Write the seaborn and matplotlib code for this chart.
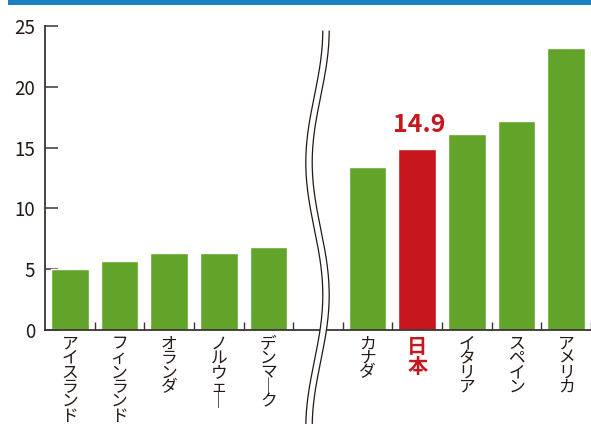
import numpy as np
import pandas as pd
import matplotlib
matplotlib.use("Agg")
import matplotlib.pyplot as plt
from matplotlib.lines import Line2D
from matplotlib.patches import Polygon, Rectangle
import seaborn as sns

# dane
countries_left = ["アイスランド", "フィンランド", "オランダ", "ノルウェー", "デンマーク"]
values_left = [5.0, 5.7, 6.3, 6.3, 6.8]
countries_right = ["カナダ", "日本", "イタリア", "スペイン", "アメリカ"]
values_right = [13.4, 14.9, 16.1, 17.2, 23.2]
highlight = "日本"
y_ticks = [0, 5, 10, 15, 20, 25]

GREEN = "#62a32a"
RED = "#c8161e"
BLUE = "#1a80c4"
DARK = "#3a3433"
TEXT = "#231815"

sns.set_theme(style="white")
plt.rcParams["font.family"] = ["Noto Sans CJK JP", "DejaVu Sans"]

W, H = 591, 424
fig = plt.figure(figsize=(W / 100, H / 100), dpi=100)
ax = fig.add_axes([45 / W, 1 - 330 / H, (W - 45) / W, (330 - 26) / H])

df = pd.DataFrame({"country": countries_left + countries_right,
                   "value": values_left + values_right})
gap = " "
order = countries_left + [gap] + countries_right
palette = {c: (RED if c == highlight else GREEN) for c in df["country"]}

sns.barplot(data=df, x="country", y="value", hue="country", order=order,
            palette=palette, width=0.76, saturation=1, legend=False, ax=ax)

n = len(order)
ax.set_xlim(-0.5, -0.5 + (W - 45) / 50)
ax.set_ylim(0, 25)
ax.set_xlabel("")
ax.set_ylabel("")

# osie
for s in ["top", "right"]:
    ax.spines[s].set_visible(False)
for s in ["left", "bottom"]:
    ax.spines[s].set_color(DARK)
    ax.spines[s].set_linewidth(1.3)

ax.set_yticks(y_ticks)
ax.tick_params(axis="y", direction="in", length=9.5, width=1.1, color=DARK,
               labelsize=13.5, labelcolor=TEXT, pad=7, left=True)

# pionowe napisy (znak po znaku)
def vertical(label):
    return "\n".join("｜" if ch == "ー" else ch for ch in label)

ax.set_xticks(range(n))
ax.set_xticklabels([vertical(c) for c in order], linespacing=0.8)
ax.tick_params(axis="x", length=0, pad=4, labelsize=12, labelcolor=TEXT)
ax.set_xticks(np.arange(n) + 0.5, minor=True)
ax.tick_params(axis="x", which="minor", direction="in", length=5.5,
               width=1.0, color=DARK, bottom=True)
for lab in ax.get_xticklabels():
    if lab.get_text() == vertical(highlight):
        lab.set_color(RED)
        lab.set_fontweight("bold")
        lab.set_fontsize(14.5)
        lab.set_linespacing(0.95)

# etykieta wartości dla Japonii
hl_value = values_right[countries_right.index(highlight)]
ax.text(order.index(highlight) + 0.04, hl_value + 0.95, f"{hl_value:.1f}",
        ha="center", va="bottom", color=RED, fontsize=18, fontweight="bold")

# znak przerwania osi (podwójna falista linia)
yy = np.linspace(31, H + 2, 200)
xc = 317.5 + 8.5 * np.cos(2 * np.pi * (yy - 30) / 265)
xl, xr = xc - 3.2, xc + 3.2
fx = lambda x: x / W
fy = lambda y: 1 - y / H
poly = np.column_stack([np.r_[fx(xl), fx(xr[::-1])], np.r_[fy(yy), fy(yy[::-1])]])
fig.add_artist(Polygon(poly, closed=True, facecolor="white", edgecolor="none",
                       transform=fig.transFigure, zorder=5))
for xs in (xl, xr):
    fig.add_artist(Line2D(fx(xs), fy(yy), color=TEXT, lw=0.9,
                          transform=fig.transFigure, zorder=6))

# niebieski pasek u góry
fig.add_artist(Rectangle((8 / W, 1 - 5 / H), 1 - 8 / W, 5 / H, facecolor=BLUE,
                         edgecolor="none", transform=fig.transFigure))

fig.savefig("out.png", dpi=100)
